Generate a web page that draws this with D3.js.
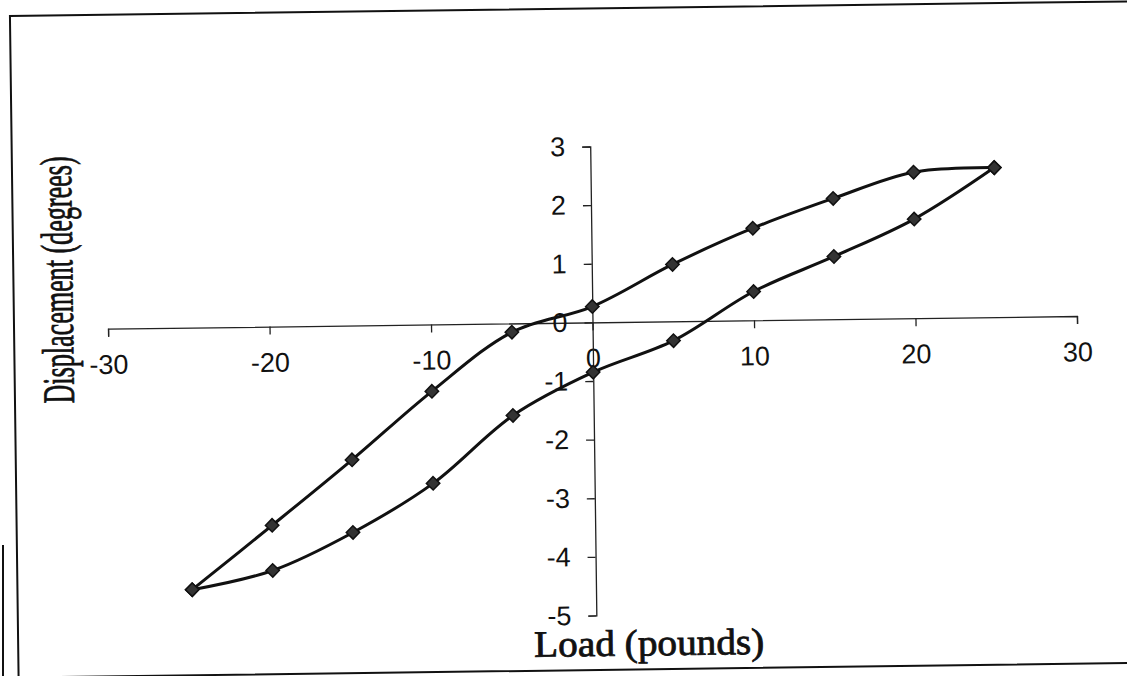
<!DOCTYPE html>
<meta charset="utf-8">
<style>

body {
  margin: 0;
  overflow: hidden;
  background: #fff;
}

svg {
  display: block;
}

.curve {
  fill: none;
  stroke: #111;
  stroke-width: 3px;
}

.marker {
  fill: #333;
  stroke: #111;
  stroke-width: 1.5px;
}

.axis path,
.axis line {
  stroke: #222;
  stroke-width: 1.3px;
}

.axis text {
  font-family: "Liberation Sans", Arial, sans-serif;
  font-size: 27px;
  fill: #111;
}

.title {
  font-family: "Liberation Serif", "Times New Roman", serif;
  fill: #111;
  stroke: #111;
  stroke-width: .8px;
}

.frame {
  fill: none;
  stroke: #111;
  stroke-width: 2px;
}

</style>
<body>
<script src="https://cdn.jsdelivr.net/npm/d3@7"></script>
<script>

var width = 1127,
    height = 676;

// load steps (pounds)
var loads = [-25, -20, -15, -10, -5, 0, 5, 10, 15, 20, 25];

// displacement (degrees) on the two halves of the loop
var upperDisp = [-4.47, -3.39, -2.29, -1.14, -0.15, 0.27, 0.97, 1.57, 2.06, 2.49, 2.55];
var lowerDisp = [-4.47, -4.16, -3.53, -2.71, -1.57, -0.85, -0.33, 0.49, 1.07, 1.69, 2.55];

var xTicks = [-30, -20, -10, 0, 10, 20, 30];
var yTicks = [-5, -4, -3, -2, -1, 0, 1, 2, 3];

var x = d3.scaleLinear()
    .domain([-30, 30])
    .range([108, 1077]);

var y = d3.scaleLinear()
    .domain([-5, 3])
    .range([615.5, 146.5]);

var svg = d3.select("body").append("svg")
    .attr("width", width)
    .attr("height", height);

// the scanned page sits a little crooked
var page = svg.append("g")
    .attr("transform", "rotate(-0.75," + x(0) + "," + y(0) + ")");

// chart border: top, left and bottom only, the right side is off the scan
page.append("path")
    .attr("class", "frame")
    .attr("d", "M1180,8.4H14V670H1180");

// edge of the next sheet in the scan
svg.append("line")
    .attr("x1", 3).attr("y1", 545)
    .attr("x2", 3).attr("y2", height)
    .attr("stroke", "#111")
    .attr("stroke-width", 2);

var fmt = function(d) { return String(d); };

page.append("g")
    .attr("class", "axis")
    .attr("transform", "translate(0," + y(0) + ")")
    .call(d3.axisBottom(x).tickValues(xTicks).tickSize(8).tickPadding(18).tickFormat(fmt));

page.append("g")
    .attr("class", "axis")
    .attr("transform", "translate(" + x(0) + ",0)")
    .call(d3.axisLeft(y).tickValues(yTicks).tickSize(8).tickPadding(17).tickFormat(fmt));

page.selectAll(".axis .domain").attr("fill", "none");
page.selectAll(".axis text").attr("fill", "#111");

var line = d3.line()
    .x(function(d) { return x(d[0]); })
    .y(function(d) { return y(d[1]); })
    .curve(d3.curveCatmullRom.alpha(0.5));

var series = [
  loads.map(function(l, i) { return [l, upperDisp[i]]; }),
  loads.map(function(l, i) { return [l, lowerDisp[i]]; })
];

page.selectAll(".curve")
    .data(series)
  .enter().append("path")
    .attr("class", "curve")
    .attr("d", line);

var diamond = d3.symbol().type(d3.symbolSquare).size(90);

page.selectAll(".marker")
    .data(d3.merge(series))
  .enter().append("path")
    .attr("class", "marker")
    .attr("d", diamond)
    .attr("transform", function(d) { return "translate(" + x(d[0]) + "," + y(d[1]) + ") rotate(45)"; });

page.append("text")
    .attr("class", "title")
    .attr("x", 645)
    .attr("y", 656)
    .attr("font-size", 37)
    .attr("text-anchor", "middle")
    .attr("textLength", 230)
    .attr("lengthAdjust", "spacingAndGlyphs")
    .text("Load (pounds)");

page.append("text")
    .attr("class", "title")
    .attr("transform", "translate(73,273) rotate(-90)")
    .attr("font-size", 45)
    .attr("text-anchor", "middle")
    .attr("textLength", 247)
    .attr("lengthAdjust", "spacingAndGlyphs")
    .text("Displacement (degrees)");

</script>
